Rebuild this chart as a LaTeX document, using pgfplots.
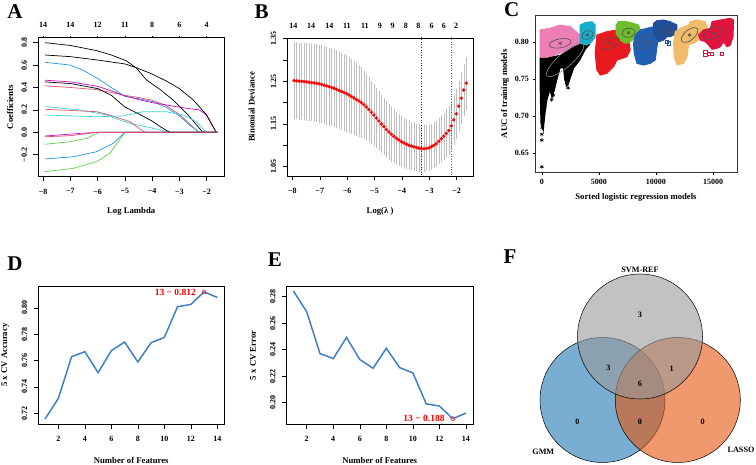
\documentclass[border=0pt]{standalone}
\usepackage{fontspec}
\setmainfont{Liberation Serif}
\usepackage{pgfplots}
\pgfplotsset{compat=1.18}
\usepackage{pgfplotstable}

\definecolor{rred}{HTML}{DF536B}
\definecolor{rgreen}{HTML}{61D04F}
\definecolor{rblue}{HTML}{2297E6}
\definecolor{rcyan}{HTML}{3CD2DA}
\definecolor{rmag}{HTML}{CD0BBC}
\definecolor{pinkC}{HTML}{EC7FB5}
\definecolor{cyanC}{HTML}{17AECC}
\definecolor{redC}{HTML}{E8191F}
\definecolor{greenC}{HTML}{6CBF2A}
\definecolor{blueC}{HTML}{2160B0}
\definecolor{navyC}{HTML}{1F4E9C}
\definecolor{yellowC}{HTML}{F0BC6A}
\definecolor{crimC}{HTML}{E0143C}
\definecolor{ellC}{HTML}{505050}
\definecolor{lineD}{HTML}{3F7FC8}
\definecolor{vennB}{HTML}{1F77B4}
\definecolor{vennO}{HTML}{E6550D}
\definecolor{vennG}{HTML}{999999}
\definecolor{barG}{HTML}{BEBEBE}

\pgfplotstableread{
x y e
-7.940 1.2513 0.087
-7.849 1.2507 0.087
-7.758 1.2501 0.087
-7.666 1.2496 0.087
-7.575 1.2490 0.087
-7.484 1.2483 0.088
-7.393 1.2474 0.088
-7.302 1.2466 0.088
-7.210 1.2457 0.088
-7.119 1.2448 0.088
-7.028 1.2439 0.088
-6.937 1.2424 0.088
-6.846 1.2406 0.088
-6.754 1.2389 0.088
-6.663 1.2371 0.088
-6.572 1.2354 0.088
-6.481 1.2335 0.088
-6.390 1.2310 0.088
-6.298 1.2284 0.088
-6.207 1.2259 0.087
-6.116 1.2234 0.087
-6.025 1.2209 0.087
-5.934 1.2177 0.086
-5.842 1.2141 0.085
-5.751 1.2106 0.084
-5.660 1.2071 0.083
-5.569 1.2036 0.081
-5.478 1.1998 0.080
-5.386 1.1946 0.077
-5.295 1.1895 0.075
-5.204 1.1837 0.073
-5.113 1.1771 0.071
-5.022 1.1706 0.069
-4.930 1.1637 0.067
-4.839 1.1568 0.066
-4.748 1.1499 0.065
-4.657 1.1435 0.064
-4.566 1.1370 0.063
-4.474 1.1310 0.062
-4.383 1.1259 0.061
-4.292 1.1208 0.060
-4.201 1.1164 0.059
-4.110 1.1124 0.058
-4.018 1.1084 0.057
-3.927 1.1054 0.056
-3.836 1.1026 0.056
-3.745 1.0999 0.055
-3.654 1.0981 0.054
-3.562 1.0963 0.054
-3.471 1.0947 0.053
-3.380 1.0933 0.053
-3.289 1.0919 0.052
-3.198 1.0918 0.052
-3.106 1.0926 0.051
-3.015 1.0935 0.051
-2.924 1.0965 0.051
-2.833 1.0999 0.051
-2.742 1.1035 0.051
-2.650 1.1094 0.051
-2.559 1.1152 0.052
-2.468 1.1213 0.052
-2.377 1.1279 0.053
-2.286 1.1344 0.054
-2.194 1.1455 0.054
-2.103 1.1593 0.055
-2.012 1.1732 0.056
-1.921 1.1914 0.057
-1.830 1.2104 0.057
-1.738 1.2292 0.058
-1.647 1.2455 0.059
}\devtable

\pgfplotstableread{
n acc
1 0.7157
2 0.7313
3 0.7629
4 0.7667
5 0.7508
6 0.7674
7 0.7740
8 0.7589
9 0.7735
10 0.7775
11 0.8008
12 0.8025
13 0.8120
14 0.8078
}\acctable

\pgfplotstableread{
n err
1 0.2843
2 0.2687
3 0.2371
4 0.2333
5 0.2492
6 0.2326
7 0.2260
8 0.2411
9 0.2265
10 0.2225
11 0.1992
12 0.1975
13 0.1880
14 0.1922
}\errtable

\pgfplotsset{
  rbase/.style={
    scale only axis, anchor=south west,
    axis line style={line width=0.6pt},
    tick align=outside, xtick pos=left, ytick pos=left,
    major tick length=3.5pt,
    tick style={black, line width=0.5pt},
    tick label style={font=\bfseries\fontsize{8}{9}\selectfont},
    /pgf/number format/assume math mode=true,
    label style={font=\bfseries\fontsize{8.7}{10}\selectfont},
    scaled ticks=false,
  },
  rotY/.style={
    major tick length=4.5pt,
    yticklabel style={rotate=90, anchor=south},
    yticklabel shift=3pt, xticklabel shift=4pt,
  },
  pathA/.style={line width=0.7pt, no marks},
}

\begin{document}
\begin{tikzpicture}[x=1pt,y=1pt]
\useasboundingbox (0,0) rectangle (756,465);

% ---------------- Panel A ----------------
\begin{axis}[rbase, rotY, at={(38pt,288.3pt)}, width=186.4pt, height=139.2pt,
  xmin=-8.19, xmax=-1.35, ymin=-0.396, ymax=0.846,
  xtick={-8,-7,-6,-5,-4,-3,-2}, xticklabels={−8,−7,−6,−5,−4,−3,−2},
  ytick={-0.2,0,0.2,0.4,0.6,0.8}, yticklabels={−0.2,0.0,0.2,0.4,0.6,0.8},
  xlabel={Log Lambda}, xlabel style={at={(axis description cs:0.5,0)}, anchor=center, yshift=-35pt},
  ylabel={Coefficients}, ylabel style={at={(axis description cs:-0.15,0.5)}, anchor=center},
]
\addplot[pathA, black] coordinates {(-7.94,0.80) (-7.0,0.775) (-6.04,0.729) (-5.5,0.69) (-4.94,0.637) (-4.57,0.571) (-4.21,0.467) (-3.7,0.38) (-3.24,0.29) (-2.7,0.16) (-2.14,0) (-1.6,0)};
\addplot[pathA, rred] coordinates {(-7.94,0.415) (-7.0,0.40) (-6.0,0.38) (-5.0,0.33) (-4.5,0.31) (-4.03,0.288) (-3.5,0.24) (-3.0,0.16) (-2.6,0.07) (-2.3,0) (-1.6,0)};
\addplot[pathA, rgreen] coordinates {(-7.94,-0.107) (-7.02,-0.084) (-6.41,-0.054) (-5.95,0) (-1.6,0)};
\addplot[pathA, rblue] coordinates {(-7.94,0.625) (-7.0,0.60) (-6.5,0.55) (-6.0,0.48) (-5.5,0.40) (-5.0,0.32) (-4.5,0.30) (-4.0,0.275) (-3.5,0.225) (-3.0,0.145) (-2.6,0.06) (-2.27,0) (-1.6,0)};
\addplot[pathA, rcyan] coordinates {(-7.94,0.229) (-6.66,0.20) (-5.68,0.155) (-5.19,0.11) (-4.82,0.08) (-4.21,0.05) (-3.36,0) (-1.6,0)};
\addplot[pathA, rmag] coordinates {(-7.94,0.465) (-7.0,0.45) (-6.0,0.41) (-5.5,0.37) (-5.0,0.325) (-4.46,0.29) (-4.0,0.265) (-3.5,0.245) (-3.11,0.228) (-2.6,0.21) (-2.26,0.20) (-2.02,0.155) (-1.65,0)};
\addplot[pathA, black] coordinates {(-7.94,0.69) (-7.0,0.675) (-6.0,0.645) (-5.0,0.61) (-4.62,0.58) (-4.0,0.52) (-3.5,0.46) (-3.0,0.39) (-2.5,0.29) (-2.0,0.155) (-1.65,0)};
\addplot[pathA, rred] coordinates {(-7.94,0.205) (-7.0,0.195) (-6.04,0.184) (-5.56,0.155) (-4.82,0.095) (-4.28,0) (-1.6,0)};
\addplot[pathA, rgreen] coordinates {(-7.94,-0.351) (-6.9,-0.322) (-6.04,-0.262) (-5.56,-0.188) (-5.25,-0.084) (-5.0,0) (-1.6,0)};
\addplot[pathA, rblue] coordinates {(-7.94,-0.238) (-6.9,-0.218) (-6.04,-0.173) (-5.43,-0.098) (-5.0,0) (-1.6,0)};
\addplot[pathA, rcyan] coordinates {(-7.94,0.154) (-6.04,0.139) (-5.07,0.146) (-4.34,0.184) (-3.48,0.184) (-2.87,0.155) (-2.38,0.095) (-2.02,0) (-1.6,0)};
\addplot[pathA, rmag] coordinates {(-7.94,-0.033) (-6.66,-0.01) (-6.04,0) (-1.6,0)};
\addplot[pathA, black] coordinates {(-7.94,0.45) (-7.0,0.435) (-6.0,0.39) (-5.5,0.33) (-5.0,0.225) (-4.5,0.165) (-4.0,0.10) (-3.7,0.05) (-3.36,0) (-1.6,0)};
\addplot[pathA, rred] coordinates {(-7.94,-0.04) (-7.0,-0.03) (-6.04,0) (-1.6,0)};
\end{axis}
\begin{axis}[scale only axis, anchor=south west, at={(38pt,288.3pt)}, width=186.4pt, height=139.2pt,
  xmin=-8.19, xmax=-1.35, ymin=-0.396, ymax=0.846,
  axis x line*=top, axis y line=none, axis line style={draw=none},
  tick align=outside, major tick length=1.5pt, tick style={black, line width=0.4pt},
  xtick={-8,-7,-6,-5,-4,-3,-2}, xticklabels={14,14,12,11,8,6,4},
  tick label style={font=\bfseries\fontsize{8}{9}\selectfont},
  xticklabel style={yshift=5pt},
]
\addplot[draw=none] coordinates {(-8,0)};
\end{axis}

% ---------------- Panel B ----------------
\begin{axis}[rbase, rotY, at={(287.2pt,289pt)}, width=185.8pt, height=138pt,
  xmin=-8.19, xmax=-1.40, ymin=1.028, ymax=1.351,
  xtick={-8,-7,-6,-5,-4,-3,-2}, xticklabels={−8,−7,−6,−5,−4,−3,−2},
  ytick={1.05,1.1,1.15,1.2,1.25,1.3,1.35}, yticklabels={1.05,,1.15,,1.25,,1.35},
  xlabel={Log(λ )}, xlabel style={at={(axis description cs:0.5,0)}, anchor=center, yshift=-35pt},
  ylabel={Binomial Deviance}, ylabel style={at={(axis description cs:-0.191,0.5)}, anchor=center},
]
\addplot[only marks, mark=*, mark size=1.5pt, color=red, mark options={draw=red, fill=red},
  error bars/.cd, y dir=both, y explicit,
  error bar style={color=barG, line width=0.45pt},
  error mark options={color=barG, mark size=1.3pt, line width=0.45pt}]
  table[x=x, y=y, y error=e] {\devtable};
\addplot[black!80, dotted, line width=0.6pt] coordinates {(-3.29,1.0) (-3.29,1.4)};
\addplot[black!60, dotted, line width=0.6pt] coordinates {(-2.18,1.0) (-2.18,1.4)};
\end{axis}
\begin{axis}[scale only axis, anchor=south west, at={(287.2pt,289pt)}, width=185.8pt, height=138pt,
  xmin=-8.19, xmax=-1.40, ymin=1.028, ymax=1.351,
  axis x line*=top, axis y line=none, axis line style={draw=none},
  major tick length=0pt,
  xtick={-7.96,-7.32,-6.65,-6.01,-5.35,-4.80,-4.34,-3.85,-3.40,-2.91,-2.46,-2.02},
  xticklabels={14,14,14,11,11,9,9,8,8,6,6,2},
  tick label style={font=\bfseries\fontsize{8}{9}\selectfont},
  xticklabel style={yshift=6pt},
]
\addplot[draw=none] coordinates {(-8,1.1)};
\end{axis}

% ---------------- Panel C ----------------
\begin{axis}[rbase, at={(535pt,292.3pt)}, width=202pt, height=157.7pt,
  xmin=-600, xmax=17100, ymin=0.623, ymax=0.8366,
  axis line style={line width=0.6pt, black!80},
  major tick length=2.5pt,
  xtick={0,5000,10000,15000}, xticklabels={0,5000,10000,15000},
  ytick={0.65,0.7,0.75,0.8}, yticklabels={0.65,0.70,0.75,0.80},
  yticklabel style={anchor=east},
  xlabel={Sorted logistic regression models}, xlabel style={at={(axis description cs:0.5,0)}, anchor=center, yshift=-24.3pt},
  ylabel={AUC of training models}, ylabel style={at={(axis description cs:-0.149,0.5)}, anchor=center},
]
\addplot[fill=pinkC, draw=pinkC, line width=1pt] coordinates {(-149,0.8163) (728,0.8186) (1605,0.8230) (2482,0.8207) (3359,0.8095) (3359,0.7936) (2745,0.7851) (1868,0.7869) (728,0.7801) (-149,0.7779)} -- cycle;
\addplot[fill=black, draw=black, line width=1pt] coordinates {(-150,0.778) (500,0.778) (1000,0.780) (1600,0.782) (2200,0.787) (2800,0.793) (3400,0.797) (4000,0.800) (4200,0.797) (3800,0.790) (3300,0.775) (2800,0.765) (2500,0.752) (2300,0.742) (2150,0.740) (2000,0.750) (1900,0.765) (1600,0.765) (1300,0.748) (1100,0.735) (900,0.725) (700,0.735) (450,0.722) (300,0.706) (200,0.692) (120,0.680) (-80,0.690) (-150,0.740)} -- cycle;
\addplot[only marks, mark=asterisk, mark size=2pt, black, line width=0.6pt] coordinates {(0,0.631) (0,0.667) (0,0.675) (30,0.684) (60,0.695) (150,0.705) (860,0.722) (2300,0.738) (1000,0.728) (250,0.712)};
\addplot[fill=cyanC, draw=cyanC, line width=1pt] coordinates {(3359,0.8230) (3797,0.8262) (4385,0.8275) (4674,0.8230) (4674,0.8072) (4385,0.8004) (3946,0.7959) (3359,0.7982)} -- cycle;
\addplot[fill=redC, draw=redC, line width=1pt] coordinates {(4824,0.8095) (5700,0.8140) (6578,0.8163) (7016,0.8118) (7595,0.8027) (7744,0.7892) (7455,0.7801) (6578,0.7756) (6279,0.7665) (5700,0.7576) (5113,0.7553) (4824,0.7621) (4674,0.7847)} -- cycle;
\addplot[fill=greenC, draw=greenC, line width=1pt] coordinates {(6516,0.8230) (6718,0.8275) (7455,0.8275) (8033,0.8253) (8472,0.8230) (8621,0.8163) (8332,0.8072) (7744,0.8004) (7305,0.7982) (6867,0.8027) (6516,0.8118)} -- cycle;
\addplot[fill=blueC, draw=blueC, line width=1pt] coordinates {(8183,0.8095) (8621,0.8163) (9209,0.8186) (9787,0.8207) (10086,0.8186) (10226,0.8072) (10086,0.7936) (9936,0.7756) (9498,0.7711) (8910,0.7688) (8332,0.7711) (8095,0.7847) (8033,0.7982)} -- cycle;
\addplot[fill=navyC, draw=navyC, line width=1pt] coordinates {(9787,0.8253) (10086,0.8289) (10664,0.8298) (11252,0.8275) (11840,0.8230) (11840,0.8163) (11541,0.8095) (11252,0.8072) (10963,0.8072) (10664,0.8027) (10226,0.8004) (9936,0.8072) (9787,0.8163)} -- cycle;
\addplot[only marks, mark=square, mark size=1.6pt, navyC] coordinates {(10963,0.8004) (11100,0.7985)};
\addplot[fill=yellowC, draw=yellowC, line width=1pt] coordinates {(11690,0.8140) (12129,0.8186) (12857,0.8230) (13006,0.8275) (13594,0.8298) (14322,0.8275) (14471,0.8207) (14322,0.8140) (13883,0.8095) (13734,0.8027) (13295,0.7982) (12857,0.7959) (12717,0.7801) (12418,0.7711) (11840,0.7688) (11603,0.7801) (11541,0.7982)} -- cycle;
\addplot[fill=crimC, draw=crimC, line width=1pt] coordinates {(13734,0.8095) (14173,0.8163) (14760,0.8186) (14909,0.8275) (15637,0.8298) (16514,0.8321) (16804,0.8298) (16751,0.8072) (16514,0.7959) (16224,0.7936) (15926,0.8004) (15637,0.7936) (15348,0.7915) (14909,0.7901) (14611,0.7959) (14322,0.8004) (13883,0.8027)} -- cycle;
\addplot[only marks, mark=square, mark size=1.6pt, crimC] coordinates {(14322,0.7869) (14611,0.7847) (14909,0.7847) (15786,0.7847) (14322,0.7824)};
\draw[black!45, line width=0.6pt, rotate around={41:(axis cs:2043,0.7756)}] (axis cs:2043,0.7756) ellipse [x radius=24pt, y radius=7pt];
\draw[ellC, line width=0.6pt, rotate around={10:(axis cs:1605,0.7982)}] (axis cs:1605,0.7982) ellipse [x radius=11pt, y radius=4.5pt];
\draw[ellC, line width=0.6pt, rotate around={20:(axis cs:3999,0.8095)}] (axis cs:3999,0.8095) ellipse [x radius=6pt, y radius=4pt];
\draw[ellC, line width=0.6pt, rotate around={25:(axis cs:5990,0.7982)}] (axis cs:5990,0.7982) ellipse [x radius=10pt, y radius=5pt];
\draw[ellC, line width=0.6pt, rotate around={10:(axis cs:7595,0.8126)}] (axis cs:7595,0.8126) ellipse [x radius=6.5pt, y radius=4.5pt];
\draw[ellC, line width=0.6pt, rotate around={35:(axis cs:9060,0.8004)}] (axis cs:9060,0.8004) ellipse [x radius=10pt, y radius=5pt];
\draw[ellC, line width=0.6pt, rotate around={20:(axis cs:10963,0.8153)}] (axis cs:10963,0.8153) ellipse [x radius=7pt, y radius=4pt];
\draw[ellC, line width=0.6pt, rotate around={40:(axis cs:12945,0.8095)}] (axis cs:12945,0.8095) ellipse [x radius=10pt, y radius=5pt];
\draw[ellC, line width=0.6pt, rotate around={25:(axis cs:14997,0.8118)}] (axis cs:14997,0.8118) ellipse [x radius=10pt, y radius=5pt];
\addplot[only marks, mark=asterisk, mark size=2pt, ellC, line width=0.5pt] coordinates {(1605,0.7982) (3999,0.8095) (5990,0.7982) (7595,0.8126) (9060,0.8004) (10963,0.8153) (12945,0.8095) (14997,0.8118)};
\end{axis}

% ---------------- Panel D ----------------
\begin{axis}[rbase, rotY, at={(38.2pt,40.9pt)}, width=186pt, height=138.1pt,
  xmin=0.48, xmax=14.52, ymin=0.7118, ymax=0.8165,
  xtick={2,4,6,8,10,12,14}, xticklabels={2,4,6,8,10,12,14},
  ytick={0.72,0.74,0.76,0.78,0.8}, yticklabels={0.72,0.74,0.76,0.78,0.80},
  xlabel={Number of Features}, xlabel style={at={(axis description cs:0.5,0)}, anchor=center, yshift=-35.9pt},
  ylabel={5 x CV Accuracy}, ylabel style={at={(axis description cs:-0.178,0.5)}, anchor=center},
]
\addplot[lineD, line width=1.5pt, no marks] table[x=n, y=acc] {\acctable};
\addplot[only marks, mark=o, mark size=2pt, red, line width=0.5pt] coordinates {(13,0.8120)};
\node[red, font=\bfseries\fontsize{9.5}{10}\selectfont, anchor=east, inner sep=0pt] at (axis cs:13,0.8120) [xshift=-8pt] {13 − 0.812};
\end{axis}

% ---------------- Panel E ----------------
\begin{axis}[rbase, rotY, at={(286.5pt,40.9pt)}, width=186.4pt, height=137.5pt,
  xmin=0.48, xmax=14.52, ymin=0.1839, ymax=0.2876,
  xtick={2,4,6,8,10,12,14}, xticklabels={2,4,6,8,10,12,14},
  ytick={0.2,0.22,0.24,0.26,0.28}, yticklabels={0.20,0.22,0.24,0.26,0.28},
  xlabel={Number of Features}, xlabel style={at={(axis description cs:0.5,0)}, anchor=center, yshift=-35.9pt},
  ylabel={5 x CV Error}, ylabel style={at={(axis description cs:-0.18,0.5)}, anchor=center},
]
\addplot[lineD, line width=1.5pt, no marks] table[x=n, y=err] {\errtable};
\addplot[only marks, mark=o, mark size=2pt, red, line width=0.5pt] coordinates {(13,0.1880)};
\node[red, font=\bfseries\fontsize{9.5}{10}\selectfont, anchor=east, inner sep=0pt] at (axis cs:13,0.1880) [xshift=-8pt] {13 − 0.188};
\end{axis}

% ---------------- Annotation layer + Venn ----------------
\begin{axis}[scale only axis, anchor=south west, at={(0pt,0pt)}, width=756pt, height=465pt,
  xmin=0, xmax=756, ymin=0, ymax=465, hide axis, clip=false]
\addplot[draw=none] coordinates {(0,0)};
\draw[fill=vennB, fill opacity=0.6, draw=black, line width=0.5pt] (axis cs:602.5,65) circle [radius=62.5pt];
\draw[fill=vennO, fill opacity=0.6, draw=black, line width=0.5pt] (axis cs:677.8,65) circle [radius=62.5pt];
\draw[fill=vennG, fill opacity=0.6, draw=black, line width=0.5pt] (axis cs:640,128.5) circle [radius=62.5pt];
\begin{scope}[every node/.style={font=\bfseries\fontsize{8.2}{9}\selectfont, inner sep=0pt}]
\node at (axis cs:640,195) {SVM-REF};
\node at (axis cs:543.3,13.3) {GMM};
\node at (axis cs:741,15) {LASSO};
\node at (axis cs:640,150) {3};
\node at (axis cs:608.3,96.7) {3};
\node at (axis cs:671.7,96.7) {1};
\node at (axis cs:640,80.7) {6};
\node at (axis cs:577.3,43.3) {0};
\node at (axis cs:640,43.3) {0};
\node at (axis cs:702.7,43.3) {0};
\end{scope}
\begin{scope}[every node/.style={font=\bfseries\fontsize{21}{23}\selectfont, inner sep=0pt}]
\node at (axis cs:15,453) {A};
\node at (axis cs:261.7,453) {B};
\node at (axis cs:511.7,455) {C};
\node at (axis cs:15,201.7) {D};
\node at (axis cs:275,205) {E};
\node at (axis cs:510,208.3) {F};
\end{scope}
\end{axis}
\end{tikzpicture}
\end{document}
